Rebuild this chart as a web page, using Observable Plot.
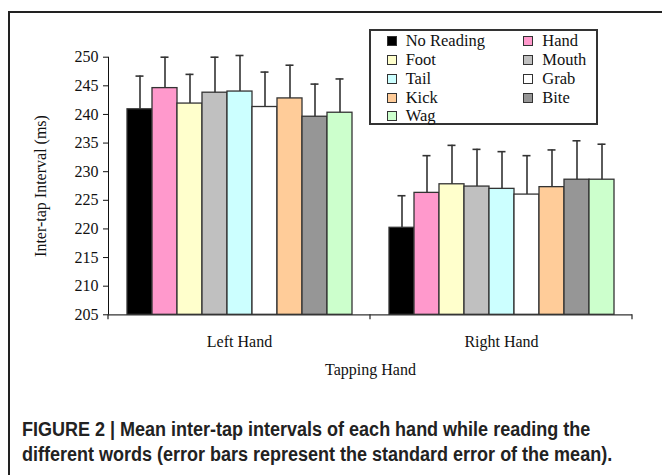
<!DOCTYPE html>
<html>
<head>
<meta charset="utf-8">
<script src="https://cdn.jsdelivr.net/npm/d3@7"></script>
<script src="https://cdn.jsdelivr.net/npm/@observablehq/plot@0.6"></script>
<style>
  body { margin: 0; background: #fff; }
  #wrap { position: relative; width: 662px; height: 475px; overflow: hidden; background: #fff; }
  #frame { position: absolute; left: 8px; top: 11px; right: -10px; bottom: -10px;
           border-left: 2px solid #222; border-top: 2px solid #222; }
  #chart { position: absolute; left: 0; top: 0; }
  #legend { position: absolute; left: 369px; top: 29px;
            border: 2px solid #333; background: #fff;
            font-family: "Liberation Serif", serif; font-size: 16.5px; color: #111;
            display: grid; grid-template-columns: 136.6px 70px; grid-auto-rows: 18.75px;
            padding: 1px 0 0 15.7px; box-sizing: border-box; width: 229px; height: 96px; }
  #legend .item { display: flex; align-items: center; white-space: nowrap; }
  #legend .sw { width: 8px; height: 8px; border: 1px solid #333; margin-right: 9px; flex: none; }
  #caption { position: absolute; left: 22px; top: 417px; color: #222; white-space: nowrap;
             font-family: "Liberation Sans", Arial, sans-serif;
             font-weight: bold; font-size: 20px; line-height: 25px;
             transform: scaleX(0.9); transform-origin: 0 0; }
</style>
</head>
<body>
<div id="wrap">
  <div id="frame"></div>
  <div id="chart"></div>
  <div id="legend"></div>
  <div id="caption"></div>
</div>
<script>
// ---- data ----
const hands = ["Left Hand", "Right Hand"];
const words = ["No Reading", "Hand", "Foot", "Mouth", "Tail", "Grab", "Kick", "Bite", "Wag"];
const colors = ["#000000", "#ff99cc", "#ffffcc", "#c0c0c0", "#ccffff", "#ffffff", "#ffcc99", "#969696", "#ccffcc"];
const leftMeans  = [240.9, 244.6, 241.9, 243.8, 244.0, 241.3, 242.8, 239.6, 240.3];
const leftSE     = [5.8, 5.4, 5.1, 6.2, 6.3, 6.1, 5.8, 5.7, 5.9];
const rightMeans = [220.2, 226.3, 227.8, 227.4, 227.0, 226.0, 227.3, 228.6, 228.6];
const rightSE    = [5.6, 6.5, 6.8, 6.5, 6.5, 6.8, 6.5, 6.8, 6.2];
const yTicks = [205, 210, 215, 220, 225, 230, 235, 240, 245, 250];
const yLabel = "Inter-tap Interval (ms)";
const xLabel = "Tapping Hand";
const captionLines = [
  "FIGURE 2 | Mean inter-tap intervals of each hand while reading the",
  "different words (error bars represent the standard error of the mean)."
];

const means = [leftMeans, rightMeans];
const ses = [leftSE, rightSE];
const data = hands.flatMap((h, i) => words.map((w, j) => ({
  hand: h, word: w, mean: means[i][j], top: means[i][j] + ses[i][j]
})));

const ink = "#333";
const plot = Plot.plot({
  width: 662,
  height: 380,
  marginLeft: 108,
  marginRight: 30,
  marginTop: 56.7,
  marginBottom: 65.7,
  style: { fontFamily: "'Liberation Serif', serif", fontSize: "16px", color: "#111", background: "transparent", overflow: "visible" },
  fx: { domain: hands, paddingInner: 0, paddingOuter: 0, label: xLabel, labelAnchor: "center",
        labelOffset: 60, tickSize: 0, tickPadding: 21 },
  x: { domain: words, paddingInner: 0, paddingOuter: 0.74, axis: null },
  y: { domain: [yTicks[0], yTicks[yTicks.length - 1]], ticks: yTicks, tickSize: 5, tickPadding: 5,
       label: yLabel, labelAnchor: "center", labelOffset: 74, line: true, labelArrow: "none" },
  color: { domain: words, range: colors },
  marks: [
    Plot.barY(data, { fx: "hand", x: "word", y1: yTicks[0], y2: "mean", fill: "word", stroke: ink, strokeWidth: 1.3 }),
    Plot.ruleX(data, { fx: "hand", x: "word", y1: "mean", y2: "top", stroke: ink, strokeWidth: 1.6 }),
    Plot.tickY(data, { fx: "hand", x: "word", y: "top", insetLeft: 8.5, insetRight: 8.5, stroke: ink, strokeWidth: 1.6 }),
    Plot.ruleY([yTicks[0]], { stroke: ink, strokeWidth: 1.3 })
  ]
});
document.getElementById("chart").appendChild(plot);

// category boundary ticks on the x axis, from the fx scale
const fx = plot.scale("fx"), ys = plot.scale("y");
const y0 = ys.apply(yTicks[0]);
const edges = [...hands.map(h => fx.apply(h)), fx.apply(hands[hands.length - 1]) + fx.bandwidth];
d3.select(plot).append("g").attr("stroke", ink).attr("stroke-width", 1.3)
  .selectAll("line").data(edges).join("line")
  .attr("x1", d => d).attr("x2", d => d).attr("y1", y0).attr("y2", y0 + 5);

// legend
const legend = d3.select("#legend");
words.forEach((w, i) => {
  const it = legend.append("div").attr("class", "item");
  it.append("span").attr("class", "sw").style("background", colors[i]);
  it.append("span").text(w);
});

// caption
d3.select("#caption").selectAll("div").data(captionLines).join("div").text(d => d);
</script>
</body>
</html>
